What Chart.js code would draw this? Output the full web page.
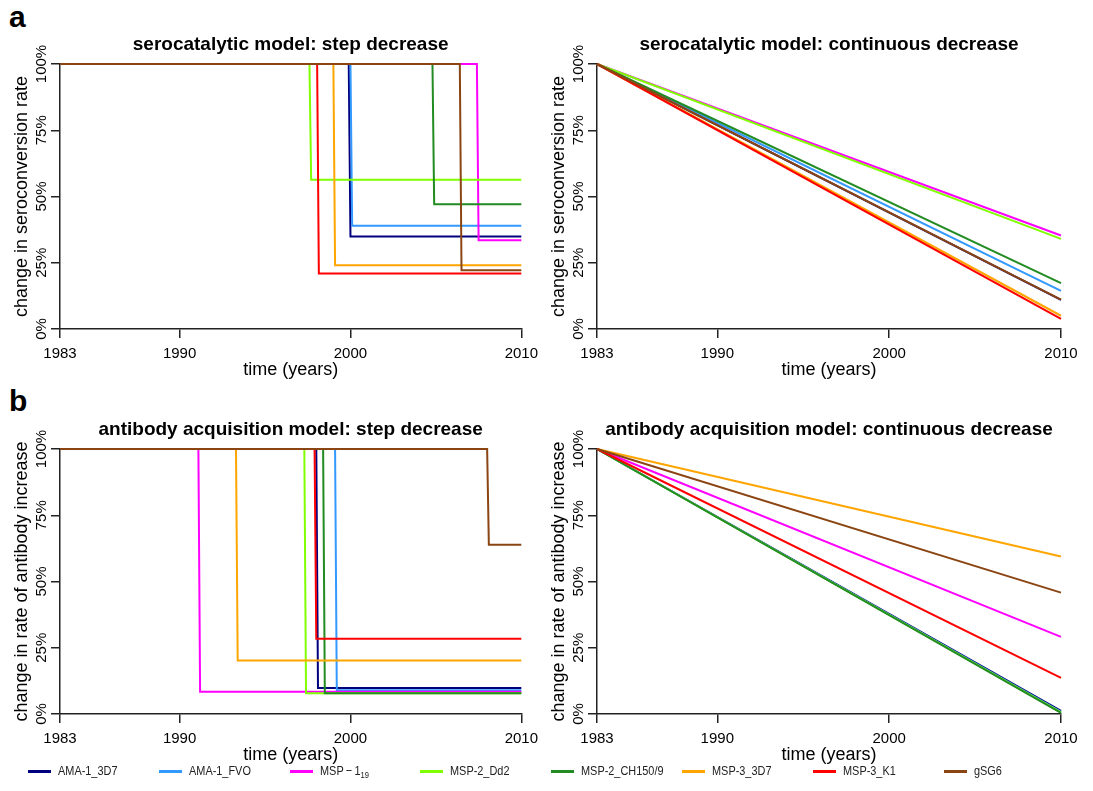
<!DOCTYPE html>
<html>
<head>
<meta charset="utf-8">
<script src="https://cdn.jsdelivr.net/npm/chart.js@4.4.1/dist/chart.umd.min.js"></script>
<style>
  html, body { margin:0; padding:0; background:#fff; }
  body { width:1093px; height:791px; position:relative; overflow:hidden; font-family:"Liberation Sans", Arial, sans-serif; }
  canvas { position:absolute; }
  .letter { position:absolute; font-weight:bold; font-size:30px; line-height:30px; color:#000; }
  .leg { position:absolute; top:763px; height:16px; font-family:"Liberation Sans Narrow","Liberation Sans",Arial,sans-serif; font-size:13px; line-height:16px; color:#222; white-space:nowrap; }
  .leg .sw { position:absolute; left:0; top:7px; width:23px; height:3px; }
  .leg .tx { position:absolute; left:30px; top:0; transform:scaleX(0.84); transform-origin:0 50%; }
  .leg sub { font-size:9px; vertical-align:-3px; line-height:0; }
</style>
</head>
<body>
<div class="letter" style="left:9px;top:2px;">a</div>
<div class="letter" style="left:9px;top:386px;">b</div>
<canvas id="c1" width="545" height="365" style="left:0px;top:20px;"></canvas>
<canvas id="c2" width="556" height="365" style="left:537px;top:20px;"></canvas>
<canvas id="c3" width="545" height="365" style="left:0px;top:405px;"></canvas>
<canvas id="c4" width="556" height="365" style="left:537px;top:405px;"></canvas>
<div id="legend"></div>
<script>
// ---------------- data ----------------
const antigens = ['AMA-1_3D7','AMA-1_FVO','MSP-1_19','MSP-2_Dd2','MSP-2_CH150/9','MSP-3_3D7','MSP-3_K1','gSG6'];
const startYear = 1983;
const endYear = 2010;
const xTickYears = [1983, 1990, 2000, 2010];
const yTickValues = [0, 25, 50, 75, 100];
// (a) serocatalytic model: step decrease — year of the step, level after the step (%)
const seroStepYear  = [1999.9, 2000.0, 2007.4, 1997.6, 2004.8, 1999.0, 1998.05, 2006.4];
const seroStepLevel = [34.9, 39.0, 33.5, 56.3, 47.1, 24.1, 20.9, 22.2];
// (a) serocatalytic model: continuous decrease — value reached in 2010 (%)
const seroContEnd   = [11.0, 14.4, 35.3, 34.0, 17.3, 5.0, 3.8, 11.1];
// (b) antibody acquisition model: step decrease
const abStepYear    = [1998.0, 1999.1, 1991.1, 1997.3, 1998.4, 1993.3, 1997.9, 2008.0];
const abStepLevel   = [9.8, 9.0, 8.4, 7.8, 7.8, 20.2, 28.4, 63.9];
// (b) antibody acquisition model: continuous decrease — value reached in 2010 (%)
const abContEnd     = [1.2, 0.8, 29.1, 0.6, 0.4, 59.4, 13.6, 45.8];

// ---------------- styles ----------------
const colors = ['#00007F','#3399FF','#FF00FF','#80FF00','#228B22','#FFA500','#FF0000','#8B4513'];
const FONT = '"Liberation Sans", Arial, sans-serif';
const AXIS = '#222';

function stepData(t, lvl) {
  return [{x:startYear, y:100}, {x:t, y:100}, {x:t + 0.1, y:lvl}, {x:endYear, y:lvl}];
}
function contData(end) {
  return [{x:startYear, y:100}, {x:endYear, y:end}];
}
function buildDatasets(fn) {
  // index 0 is drawn on top in Chart.js, so reverse legend order
  const ds = antigens.map((name, i) => ({
    label: name,
    data: fn(i),
    borderColor: colors[i],
    backgroundColor: colors[i],
    borderWidth: 2,
    pointRadius: 0,
    fill: false,
    tension: 0,
    clip: false
  }));
  return ds.reverse();
}

function makeChart(id, title, yTitle, datasets, padRight) {
  return new Chart(document.getElementById(id), {
    type: 'line',
    data: { datasets },
    options: {
      responsive: false,
      animation: false,
      devicePixelRatio: 1,
      layout: { padding: { left: 0, right: padRight, top: 0, bottom: 0 } },
      plugins: {
        legend: { display: false },
        tooltip: { enabled: false },
        title: {
          display: true, text: title, fullSize: false, color: '#000',
          font: { family: FONT, size: 19, weight: 'bold' },
          padding: { top: 13.6, bottom: 7.6 }
        }
      },
      scales: {
        x: {
          type: 'linear', min: startYear, max: endYear,
          afterBuildTicks: s => { s.ticks = xTickYears.map(v => ({ value: v })); },
          afterFit: s => { s.height = 56; },
          ticks: { color: '#000', font: { family: FONT, size: 15 }, padding: 7, maxRotation: 0, autoSkip: false, callback: v => String(v) },
          grid: { display: true, drawOnChartArea: false, drawTicks: true, tickLength: 9, color: AXIS, lineWidth: 1.5 },
          border: { display: true, color: AXIS, width: 1.5 },
          title: { display: true, text: 'time (years)', color: '#000', font: { family: FONT, size: 18 }, padding: { top: 0, bottom: 4.2 } }
        },
        y: {
          type: 'linear', min: 0, max: 100,
          afterBuildTicks: s => { s.ticks = yTickValues.map(v => ({ value: v })); },
          afterFit: s => { s.width = 60; },
          ticks: { color: '#000', font: { family: FONT, size: 15 }, padding: -10, minRotation: 90, maxRotation: 90, crossAlign: 'center', callback: v => v + '%' },
          grid: { display: true, drawOnChartArea: false, drawTicks: true, tickLength: 9, color: AXIS, lineWidth: 1.5 },
          border: { display: true, color: AXIS, width: 1.5 },
          title: { display: true, text: yTitle, color: '#000', font: { family: FONT, size: 18 }, padding: { top: 11.5, bottom: 0 } }
        }
      }
    }
  });
}

makeChart('c1', 'serocatalytic model: step decrease', 'change in seroconversion rate',
  buildDatasets(i => stepData(seroStepYear[i], seroStepLevel[i])), 21);
makeChart('c2', 'serocatalytic model: continuous decrease', 'change in seroconversion rate',
  buildDatasets(i => contData(seroContEnd[i])), 32);
makeChart('c3', 'antibody acquisition model: step decrease', 'change in rate of antibody increase',
  buildDatasets(i => stepData(abStepYear[i], abStepLevel[i])), 21);
makeChart('c4', 'antibody acquisition model: continuous decrease', 'change in rate of antibody increase',
  buildDatasets(i => contData(abContEnd[i])), 32);

// ---------------- legend ----------------
const legendX = [28, 159, 290, 420, 551, 682, 813, 944];
const legend = document.getElementById('legend');
antigens.forEach((name, i) => {
  const d = document.createElement('div');
  d.className = 'leg';
  d.style.left = legendX[i] + 'px';
  const sw = document.createElement('div');
  sw.className = 'sw';
  sw.style.background = colors[i];
  const tx = document.createElement('div');
  tx.className = 'tx';
  if (name === 'MSP-1_19') {
    tx.innerHTML = 'MSP\u2009\u2212\u20091<sub>19</sub>';
  } else {
    tx.textContent = name;
  }
  d.appendChild(sw); d.appendChild(tx);
  legend.appendChild(d);
});
</script>
</body>
</html>
